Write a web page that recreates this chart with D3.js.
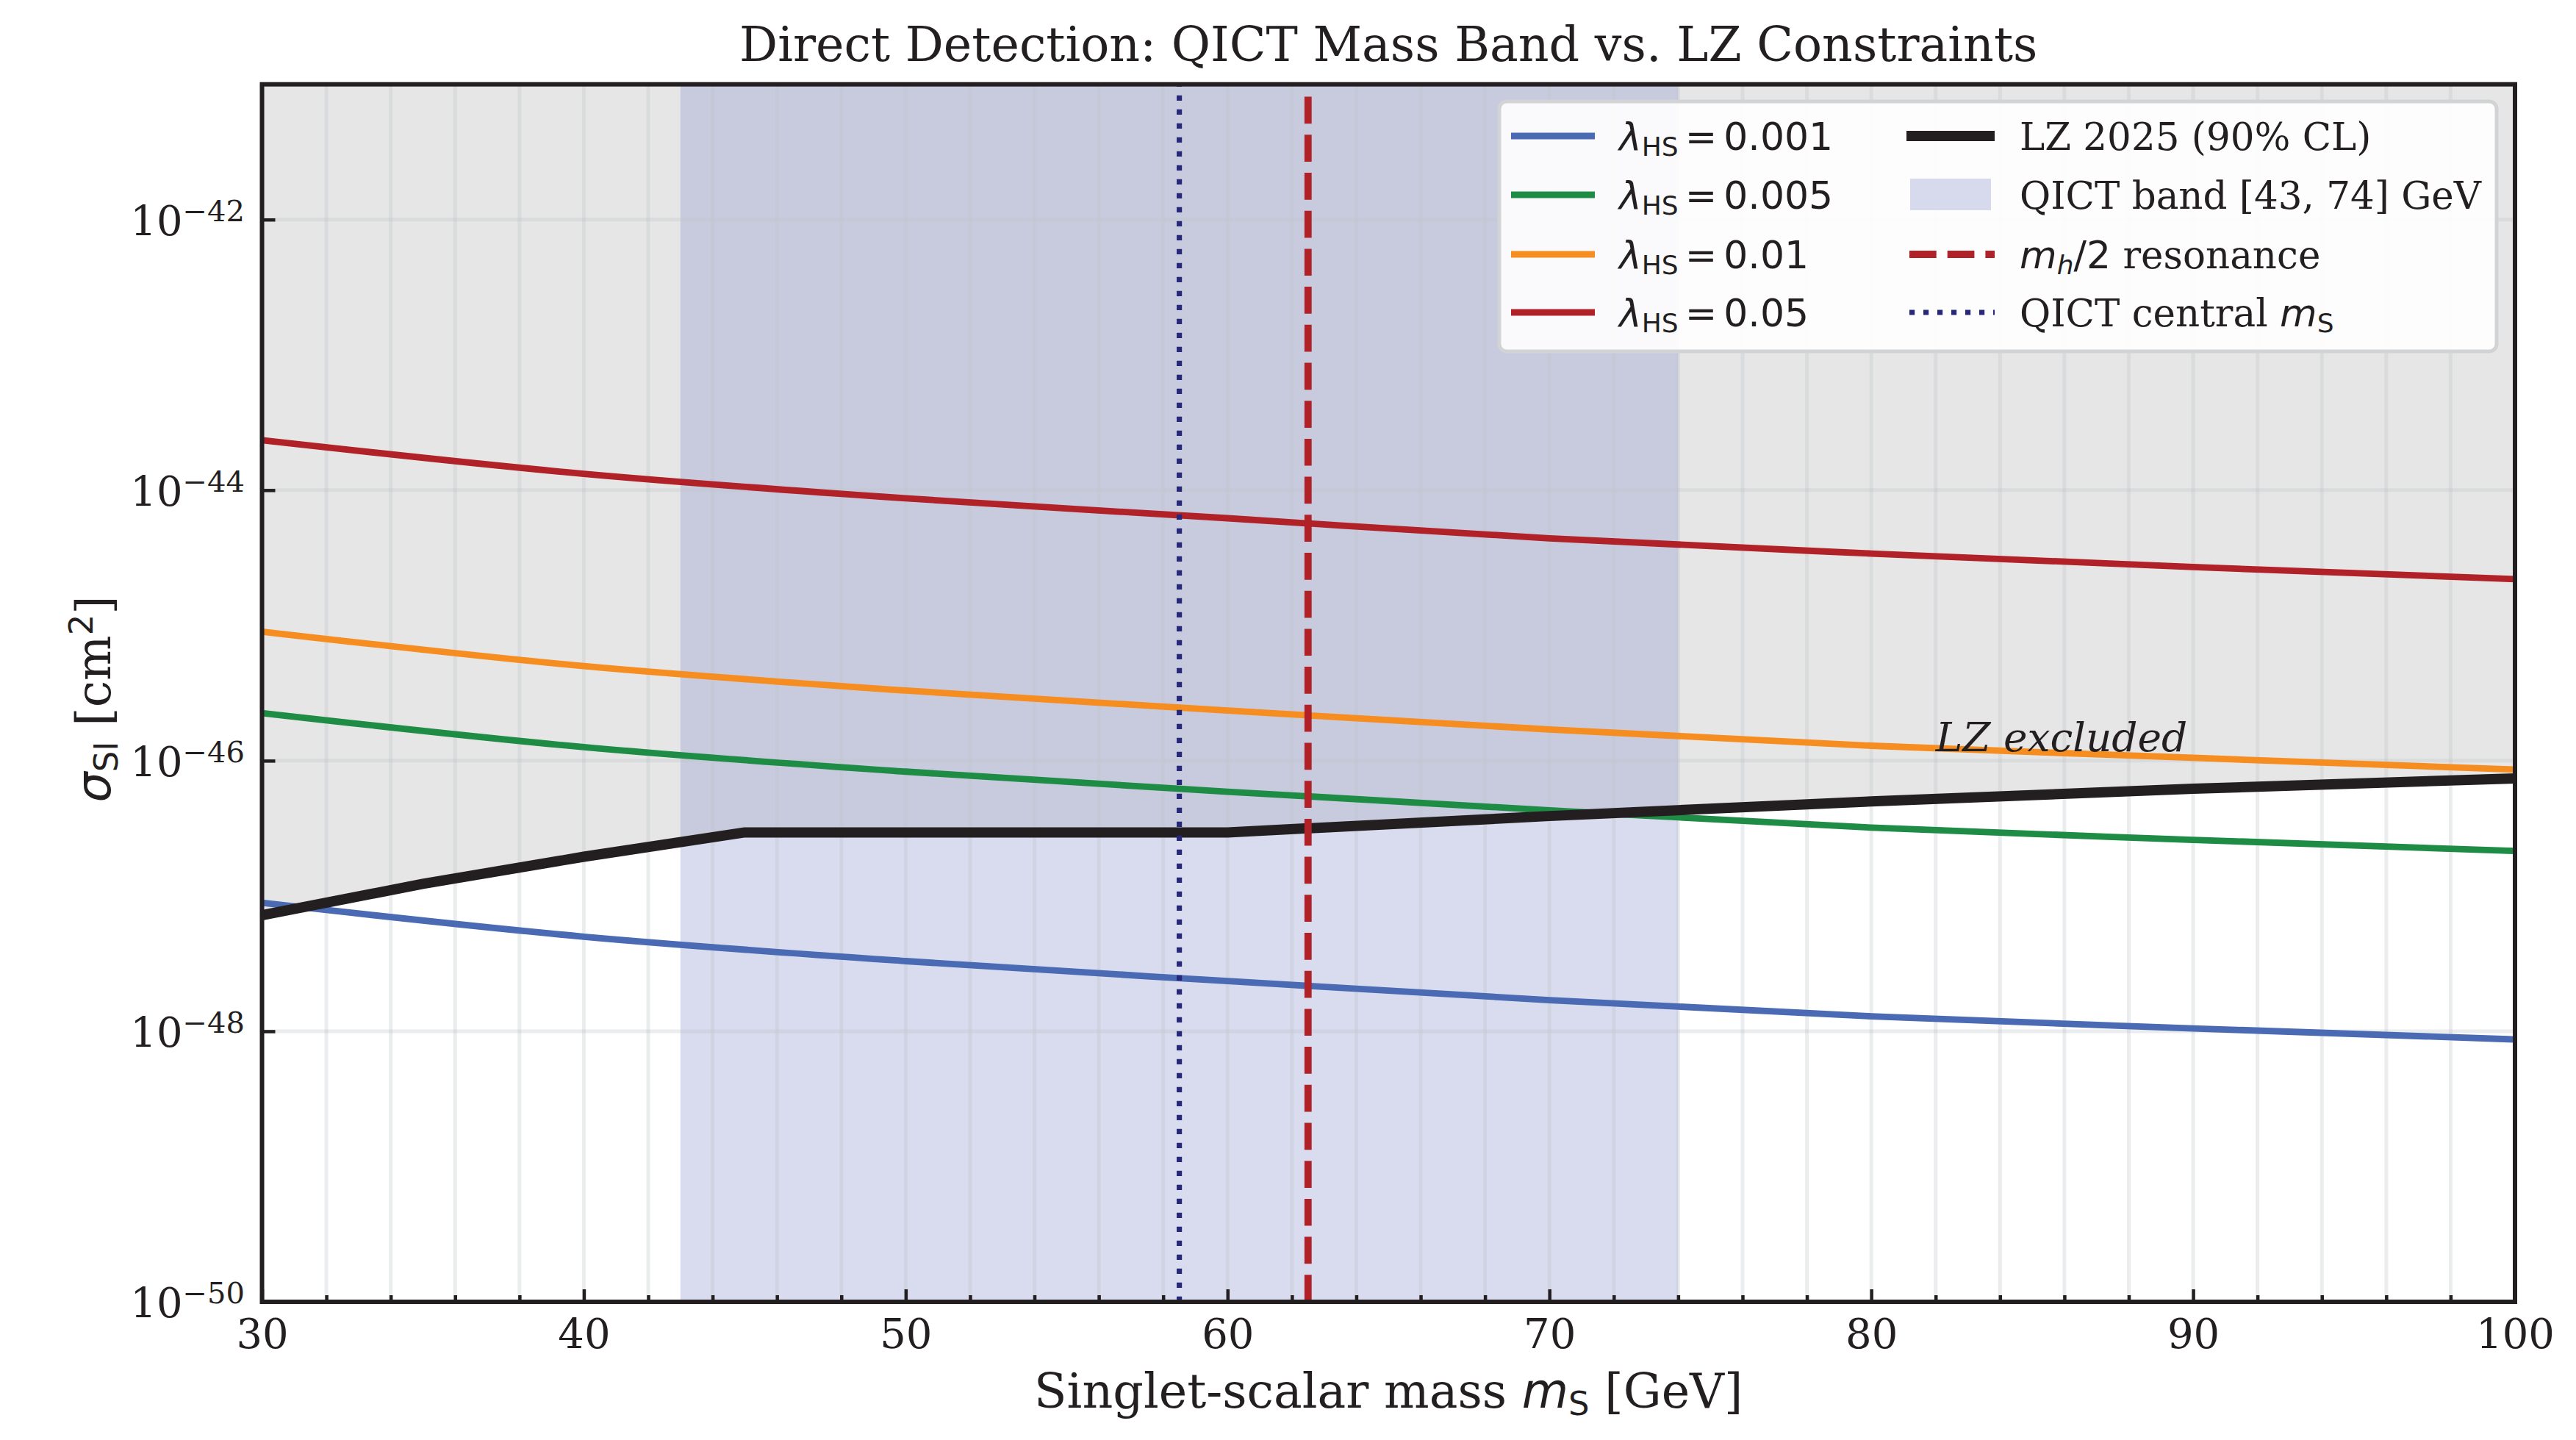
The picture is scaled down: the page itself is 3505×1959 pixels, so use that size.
<!DOCTYPE html>
<html>
<head>
<meta charset="utf-8">
<script src="https://cdn.jsdelivr.net/npm/d3@7"></script>
<style>
  body { margin: 0; background: #fff; }
  svg { display: block; }
  text { fill: #231f20; white-space: pre; }
</style>
</head>
<body>
<div class="div-chart"></div>
<script>
// values (sigma_SI in cm^2, mass in GeV)
const massPoints = [30, 40, 50, 60, 70, 80, 90, 100];
const sigmaL0001 = [8.9e-48, 5.0e-48, 3.3e-48, 2.35e-48, 1.7e-48, 1.29e-48, 1.05e-48, 8.7e-49];
const sigmaL0005 = [2.25e-46, 1.26e-46, 8.3e-47, 5.9e-47, 4.3e-47, 3.2e-47, 2.6e-47, 2.15e-47];
const sigmaL001 = [9.0e-46, 5.0e-46, 3.3e-46, 2.35e-46, 1.7e-46, 1.29e-46, 1.05e-46, 8.6e-47];
const sigmaL005 = [2.34e-44, 1.32e-44, 8.7e-45, 6.2e-45, 4.4e-45, 3.4e-45, 2.7e-45, 2.2e-45];
const lambdaLabels = ["0.001", "0.005", "0.01", "0.05"];
const lambdaColors = ["#4a6ab3", "#1e8c45", "#f68d21", "#b02227"];

const lzMass = [30, 35, 40, 45, 60, 70, 80, 90, 100];
const lzSigma = [7.2e-48, 1.23e-47, 1.95e-47, 2.95e-47, 2.95e-47, 3.9e-47, 5.0e-47, 6.2e-47, 7.4e-47];

const qictBand = [43, 74];
const qictCentral = 58.5;
const higgsHalf = 62.5;

const xTicks = [30, 40, 50, 60, 70, 80, 90, 100];
const xMinorTicks = [32, 34, 36, 38, 42, 44, 46, 48, 52, 54, 56, 58, 62, 64, 66, 68, 72, 74, 76, 78, 82, 84, 86, 88, 92, 94, 96, 98];
const yTickExp = [-50, -48, -46, -44, -42];

const width = 3505,
  height = 1959;
const plotLeft = 356.5,
  plotRight = 3422,
  plotTop = 114.7,
  plotBottom = 1771;

const serif = "DejaVu Serif";
const sans = "DejaVu Sans";
const ink = "#231f20";

const svg = d3
  .select(".div-chart")
  .append("svg")
  .attr("width", width)
  .attr("height", height)
  .attr("viewBox", `0 0 ${width} ${height}`);

svg.append("rect").attr("width", width).attr("height", height).attr("fill", "#fff");

const x = d3.scaleLinear().domain([30, 100]).range([plotLeft, plotRight]);
const y = d3.scaleLog().domain([1e-50, 1e-41]).range([plotBottom, plotTop]);

svg
  .append("clipPath")
  .attr("id", "plot-clip")
  .append("rect")
  .attr("x", plotLeft)
  .attr("y", plotTop)
  .attr("width", plotRight - plotLeft)
  .attr("height", plotBottom - plotTop);

const plotG = svg.append("g").attr("clip-path", "url(#plot-clip)");

const lzPoints = lzMass.map((m, i) => ({ m: m, s: lzSigma[i] }));

// excluded region above the LZ limit
plotG
  .append("path")
  .datum(lzPoints)
  .attr(
    "d",
    d3
      .area()
      .x((d) => x(d.m))
      .y0(y(1e-41))
      .y1((d) => y(d.s))
  )
  .attr("fill", "rgba(0,0,0,0.098)");

// QICT mass band
plotG
  .append("rect")
  .attr("x", x(qictBand[0]))
  .attr("y", plotTop)
  .attr("width", x(qictBand[1]) - x(qictBand[0]))
  .attr("height", plotBottom - plotTop)
  .attr("fill", "rgba(136,146,205,0.32)");

// grid
const gridG = plotG.append("g").attr("stroke", "rgba(192,196,200,0.33)").attr("stroke-width", 5);
gridG
  .selectAll("line.v")
  .data(xMinorTicks.concat(xTicks))
  .join("line")
  .attr("class", "v")
  .attr("x1", (d) => x(d))
  .attr("x2", (d) => x(d))
  .attr("y1", plotTop)
  .attr("y2", plotBottom);
gridG
  .selectAll("line.h")
  .data(yTickExp)
  .join("line")
  .attr("class", "h")
  .attr("x1", plotLeft)
  .attr("x2", plotRight)
  .attr("y1", (d) => y(Math.pow(10, d)))
  .attr("y2", (d) => y(Math.pow(10, d)));

// coupling curves
const curves = [sigmaL0001, sigmaL0005, sigmaL001, sigmaL005].map((vals, i) => ({
  label: lambdaLabels[i],
  color: lambdaColors[i],
  points: massPoints.map((m, j) => ({ m: m, s: vals[j] })),
}));

const line = d3
  .line()
  .x((d) => x(d.m))
  .y((d) => y(d.s))
  .curve(d3.curveMonotoneX);

plotG
  .selectAll("path.curve")
  .data(curves)
  .join("path")
  .attr("class", "curve")
  .attr("d", (d) => line(d.points))
  .attr("fill", "none")
  .attr("stroke", (d) => d.color)
  .attr("stroke-width", 8.8);

// LZ limit
plotG
  .append("path")
  .datum(lzPoints)
  .attr(
    "d",
    d3
      .line()
      .x((d) => x(d.m))
      .y((d) => y(d.s))
  )
  .attr("fill", "none")
  .attr("stroke", ink)
  .attr("stroke-width", 14)
  .attr("stroke-linejoin", "round");

// vertical markers (drawn bottom to top so the dashes start at the axis)
plotG
  .append("line")
  .attr("x1", x(higgsHalf))
  .attr("x2", x(higgsHalf))
  .attr("y1", plotBottom)
  .attr("y2", plotTop)
  .attr("stroke", "#b02227")
  .attr("stroke-width", 9.8)
  .attr("stroke-dasharray", "36.7,15");

plotG
  .append("line")
  .attr("x1", x(qictCentral))
  .attr("x2", x(qictCentral))
  .attr("y1", plotBottom)
  .attr("y2", plotTop)
  .attr("stroke", "#28287a")
  .attr("stroke-width", 7.2)
  .attr("stroke-dasharray", "7.2,11.8");

plotG
  .append("text")
  .attr("x", x(82))
  .attr("y", y(1.18e-46))
  .attr("font-family", serif)
  .attr("font-style", "italic")
  .attr("font-size", 55)
  .text("LZ excluded");

// axes: ticks point inwards
const xAxisG = svg
  .append("g")
  .attr("transform", `translate(0,${plotBottom})`)
  .call(d3.axisBottom(x).tickValues(xTicks).tickSize(-17).tickFormat(d3.format("d")));
xAxisG
  .append("g")
  .call(d3.axisBottom(x).tickValues(xMinorTicks).tickSize(-9).tickFormat(""));
xAxisG.selectAll(".domain").remove();
xAxisG.selectAll("line").attr("stroke", ink).attr("stroke-width", 4.5);
xAxisG
  .selectAll("text")
  .attr("y", 63)
  .attr("dy", null)
  .attr("font-family", serif)
  .attr("font-size", 56)
  .attr("fill", ink);

const yAxisG = svg
  .append("g")
  .attr("transform", `translate(${plotLeft},0)`)
  .call(
    d3
      .axisLeft(y)
      .tickValues(yTickExp.map((e) => Math.pow(10, e)))
      .tickSize(-18)
      .tickFormat("")
  );
yAxisG.selectAll(".domain").remove();
yAxisG.selectAll("line").attr("stroke", ink).attr("stroke-width", 4.5);

const yLabels = svg
  .append("g")
  .selectAll("text")
  .data(yTickExp)
  .join("text")
  .attr("x", 333)
  .attr("y", (d) => y(Math.pow(10, d)) + 21)
  .attr("text-anchor", "end")
  .attr("font-family", serif)
  .attr("font-size", 56);
yLabels.append("tspan").text("10");
yLabels
  .append("tspan")
  .attr("dy", -19)
  .attr("font-size", 40)
  .text((d) => "\u2212" + Math.abs(d));

// frame
svg
  .append("rect")
  .attr("x", plotLeft)
  .attr("y", plotTop)
  .attr("width", plotRight - plotLeft)
  .attr("height", plotBottom - plotTop)
  .attr("fill", "none")
  .attr("stroke", ink)
  .attr("stroke-width", 6);

// mixed serif / math text
function rich(textSel, parts, size) {
  parts.forEach((p) => {
    textSel
      .append("tspan")
      .attr("font-family", p.f || serif)
      .attr("font-style", p.i ? "italic" : null)
      .attr("font-size", p.s || size)
      .attr("dx", p.dx || null)
      .attr("dy", p.dy || null)
      .text(p.t);
  });
  return textSel;
}

svg
  .append("text")
  .attr("x", (plotLeft + plotRight) / 2)
  .attr("y", 83)
  .attr("text-anchor", "middle")
  .attr("font-family", serif)
  .attr("font-size", 65)
  .text("Direct Detection: QICT Mass Band vs. LZ Constraints");

rich(
  svg.append("text").attr("x", (plotLeft + plotRight) / 2).attr("y", 1915).attr("text-anchor", "middle"),
  [
    { t: "Singlet-scalar mass " },
    { t: "m", f: sans, i: true },
    { t: "S", f: sans, s: 45, dy: 10 },
    { t: " [GeV]", dy: -10 },
  ],
  65
);

rich(
  svg
    .append("text")
    .attr("transform", `translate(150,${(plotTop + plotBottom) / 2 + 8}) rotate(-90)`)
    .attr("text-anchor", "middle"),
  [
    { t: "\u03c3", f: sans, i: true },
    { t: "SI", f: sans, s: 45, dy: 10 },
    { t: " [cm", dy: -10 },
    { t: "2", f: sans, s: 45, dy: -24 },
    { t: "]", dy: 24 },
  ],
  65
);

// legend
const legendG = svg.append("g");
legendG
  .append("rect")
  .attr("x", 2040)
  .attr("y", 138)
  .attr("width", 1357)
  .attr("height", 340)
  .attr("rx", 10)
  .attr("fill", "rgba(255,255,255,0.9)")
  .attr("stroke", "#d2d3d5")
  .attr("stroke-width", 5);

const rowY = [185, 265, 346, 425];
const legendSerif = 51.5,
  legendMath = 52,
  legendSub = 36;

curves.forEach((c, i) => {
  legendG
    .append("line")
    .attr("x1", 2056)
    .attr("x2", 2170)
    .attr("y1", rowY[i])
    .attr("y2", rowY[i])
    .attr("stroke", c.color)
    .attr("stroke-width", 8.8);
  rich(
    legendG.append("text").attr("x", 2203).attr("y", rowY[i] + 19),
    [
      { t: "\u03bb", f: sans, i: true },
      { t: "HS", f: sans, s: legendSub, dy: 8 },
      { t: "=", f: sans, dx: 9, dy: -8 },
      { t: c.label, f: sans, dx: 9 },
    ],
    legendMath
  );
});

legendG
  .append("line")
  .attr("x1", 2594)
  .attr("x2", 2714)
  .attr("y1", rowY[0])
  .attr("y2", rowY[0])
  .attr("stroke", ink)
  .attr("stroke-width", 14);
legendG
  .append("rect")
  .attr("x", 2599)
  .attr("y", rowY[1] - 22)
  .attr("width", 110)
  .attr("height", 43)
  .attr("fill", "rgba(136,146,205,0.32)");
legendG
  .append("line")
  .attr("x1", 2598)
  .attr("x2", 2714)
  .attr("y1", rowY[2])
  .attr("y2", rowY[2])
  .attr("stroke", "#b02227")
  .attr("stroke-width", 9.8)
  .attr("stroke-dasharray", "36.7,15");
legendG
  .append("line")
  .attr("x1", 2598)
  .attr("x2", 2714)
  .attr("y1", rowY[3])
  .attr("y2", rowY[3])
  .attr("stroke", "#28287a")
  .attr("stroke-width", 7.2)
  .attr("stroke-dasharray", "7.2,11.8");

rich(legendG.append("text").attr("x", 2748).attr("y", rowY[0] + 19), [{ t: "LZ 2025 (90% CL)" }], legendSerif);
rich(legendG.append("text").attr("x", 2748).attr("y", rowY[1] + 19), [{ t: "QICT band [43, 74] GeV" }], legendSerif);
rich(legendG.append("text").attr("x", 2748).attr("y", rowY[2] + 19), [
  { t: "m", f: sans, i: true, s: legendMath },
  { t: "h", f: sans, i: true, s: legendSub, dy: 8 },
  { t: "/2", f: sans, s: legendMath, dy: -8 },
  { t: " resonance" },
], legendSerif);
rich(legendG.append("text").attr("x", 2748).attr("y", rowY[3] + 19), [
  { t: "QICT central " },
  { t: "m", f: sans, i: true, s: legendMath },
  { t: "S", f: sans, s: legendSub, dy: 8 },
], legendSerif);
</script>
</body>
</html>
